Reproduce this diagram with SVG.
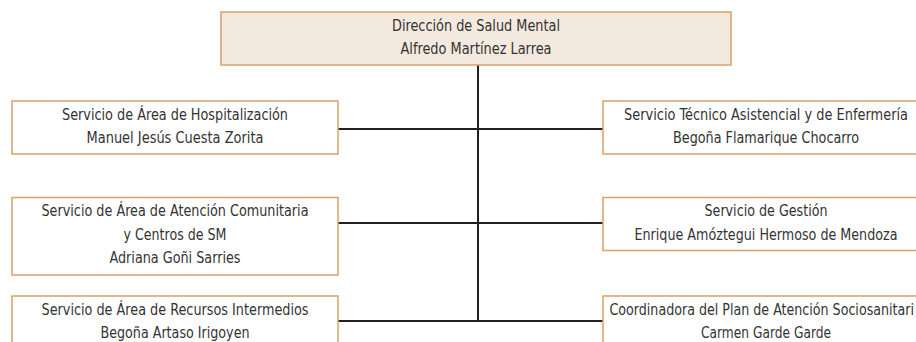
<svg xmlns="http://www.w3.org/2000/svg" width="916" height="342" viewBox="0 0 916 342">
<style>
.box{fill:#ffffff;stroke:#d9a068;stroke-width:1.5}
.top{fill:#f3e9de;stroke:#d9a068;stroke-width:1.5}
.t{font-family:"Liberation Sans Narrow","DejaVu Sans Condensed","Liberation Sans",sans-serif;font-size:16.5px;fill:#333333;text-anchor:middle}
.s{text-anchor:start}
.c{stroke:#231f20;stroke-width:2;fill:none}
</style>
<rect width="916" height="342" fill="#ffffff"/>
<g id="connectors">
<line class="c" x1="478" y1="65" x2="478" y2="322"/>
<line class="c" x1="338" y1="129" x2="603" y2="129"/>
<line class="c" x1="338" y1="223" x2="603" y2="223"/>
<line class="c" x1="338" y1="321" x2="603" y2="321"/>
</g>
<g id="direccion">
<rect class="top" x="221" y="12" width="510" height="53"/>
<text class="t" x="476" y="30.5" textLength="168" lengthAdjust="spacingAndGlyphs">Dirección de Salud Mental</text>
<text class="t" x="476" y="54" textLength="151" lengthAdjust="spacingAndGlyphs">Alfredo Martínez Larrea</text>
</g>
<g id="hospitalizacion">
<rect class="box" x="12" y="101" width="326" height="53"/>
<text class="t" x="175" y="119.5" textLength="226" lengthAdjust="spacingAndGlyphs">Servicio de Área de Hospitalización</text>
<text class="t" x="175" y="142.5" textLength="177" lengthAdjust="spacingAndGlyphs">Manuel Jesús Cuesta Zorita</text>
</g>
<g id="atencion-comunitaria">
<rect class="box" x="12" y="197.5" width="326" height="77.5"/>
<text class="t" x="175" y="216" textLength="267" lengthAdjust="spacingAndGlyphs">Servicio de Área de Atención Comunitaria</text>
<text class="t" x="175" y="239.5" textLength="103" lengthAdjust="spacingAndGlyphs">y Centros de SM</text>
<text class="t" x="175" y="263" textLength="131" lengthAdjust="spacingAndGlyphs">Adriana Goñi Sarries</text>
</g>
<g id="recursos-intermedios">
<rect class="box" x="12" y="296" width="326" height="60"/>
<text class="t" x="175" y="314.5" textLength="267" lengthAdjust="spacingAndGlyphs">Servicio de Área de Recursos Intermedios</text>
<text class="t" x="175" y="338" textLength="149" lengthAdjust="spacingAndGlyphs">Begoña Artaso Irigoyen</text>
</g>
<g id="tecnico-asistencial">
<rect class="box" x="603" y="101" width="314" height="53"/>
<text class="t" x="766" y="119.5" textLength="284" lengthAdjust="spacingAndGlyphs">Servicio Técnico Asistencial y de Enfermería</text>
<text class="t" x="766" y="142.5" textLength="186" lengthAdjust="spacingAndGlyphs">Begoña Flamarique Chocarro</text>
</g>
<g id="gestion">
<rect class="box" x="603" y="197.5" width="314" height="53"/>
<text class="t" x="766" y="216" textLength="123" lengthAdjust="spacingAndGlyphs">Servicio de Gestión</text>
<text class="t" x="766" y="239.5" textLength="263" lengthAdjust="spacingAndGlyphs">Enrique Amóztegui Hermoso de Mendoza</text>
</g>
<g id="sociosanitaria">
<rect class="box" x="603" y="296" width="314" height="60"/>
<text class="t s" x="609.5" y="314.5" textLength="304.5" lengthAdjust="spacingAndGlyphs">Coordinadora del Plan de Atención Sociosanitari</text>
<text class="t" x="766" y="338" textLength="130" lengthAdjust="spacingAndGlyphs">Carmen Garde Garde</text>
</g>
</svg>
